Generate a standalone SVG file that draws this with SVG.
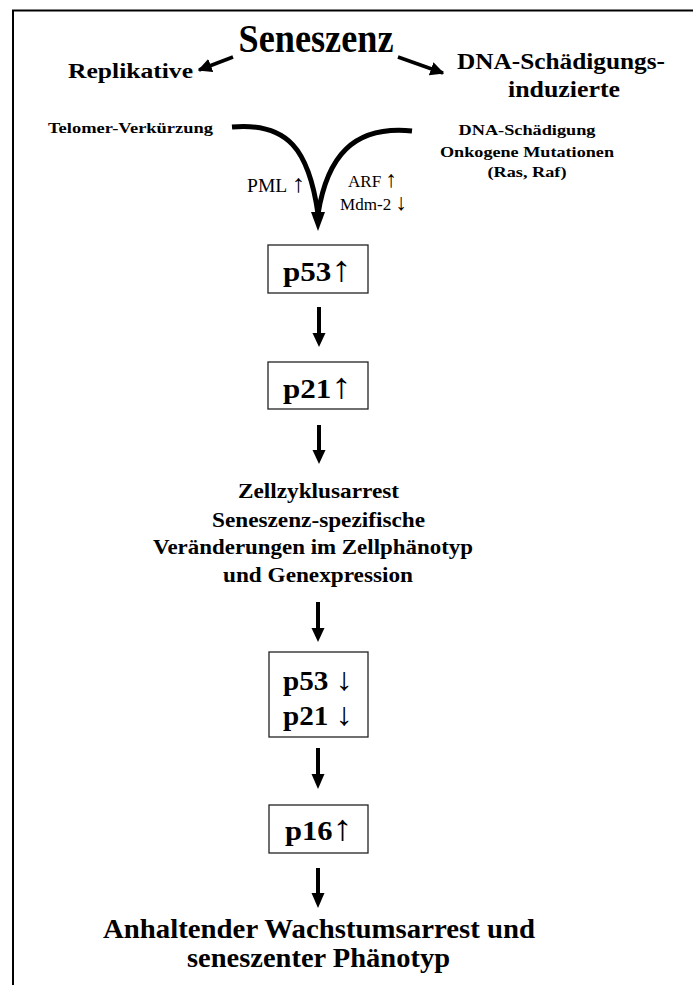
<svg xmlns="http://www.w3.org/2000/svg" width="693" height="985" viewBox="0 0 693 985">
<defs>
<style>
text{font-family:"Liberation Serif","Times New Roman",serif;fill:#000;text-anchor:middle}
.b{font-weight:bold}
.n{font-weight:normal}
.box{fill:#fff;stroke:#222;stroke-width:1.3}
.curve{fill:none;stroke:#000;stroke-width:5;stroke-linecap:butt}
.shaft{stroke:#000;stroke-width:4}
</style>
<marker id="ah" viewBox="0 0 10 10" refX="9" refY="5" markerWidth="4" markerHeight="4" orient="auto" markerUnits="strokeWidth">
<path d="M0,0 L10,5 L0,10 z" fill="#000"/>
</marker>
</defs>
<rect width="693" height="985" fill="#fff"/>
<g id="frame">
<line x1="12" y1="10.5" x2="693" y2="10.5" stroke="#000" stroke-width="2"/>
<line x1="13" y1="10" x2="13" y2="985" stroke="#000" stroke-width="2"/>
</g>
<g id="connectors">
<line x1="233" y1="57" x2="199" y2="70" stroke="#000" stroke-width="3.5" marker-end="url(#ah)"/>
<line x1="398" y1="57" x2="443" y2="73" stroke="#000" stroke-width="3.5" marker-end="url(#ah)"/>
<path class="curve" d="M232,127 C288,122 309,150 318,214"/>
<path class="curve" d="M412,131 C352,125 327,158 318,214"/>
<path d="M311,212 L325,212 L318,231 z" fill="#000"/>
<line class="shaft" x1="319" y1="307" x2="319" y2="335"/>
<path d="M312.5,333 L325.5,333 L319,347 z" fill="#000"/>
<line class="shaft" x1="319" y1="425" x2="319" y2="452"/>
<path d="M312.5,450 L325.5,450 L319,464 z" fill="#000"/>
<line class="shaft" x1="318" y1="602" x2="318" y2="630"/>
<path d="M311.5,628 L324.5,628 L318,642 z" fill="#000"/>
<line class="shaft" x1="318" y1="748" x2="318" y2="776"/>
<path d="M311.5,774 L324.5,774 L318,789 z" fill="#000"/>
<line class="shaft" x1="318" y1="868" x2="318" y2="895"/>
<path d="M311.5,893 L324.5,893 L318,908 z" fill="#000"/>
</g>
<g id="title"><text class="b" x="316" y="52" font-size="39" textLength="155" lengthAdjust="spacingAndGlyphs">Seneszenz</text></g>
<g id="replikative"><text class="b" x="130.5" y="78" font-size="22" textLength="125" lengthAdjust="spacingAndGlyphs">Replikative</text></g>
<g id="dna-induziert">
<text class="b" x="561" y="69" font-size="24" textLength="208" lengthAdjust="spacingAndGlyphs">DNA-Schädigungs-</text>
<text class="b" x="564" y="97" font-size="24" textLength="112" lengthAdjust="spacingAndGlyphs">induzierte</text>
</g>
<g id="telomer"><text class="b" x="130.5" y="133" font-size="15" textLength="165" lengthAdjust="spacingAndGlyphs">Telomer-Verkürzung</text></g>
<g id="dna-schaedigung">
<text class="b" x="527" y="135" font-size="15" textLength="137" lengthAdjust="spacingAndGlyphs">DNA-Schädigung</text>
<text class="b" x="527" y="157" font-size="15" textLength="174" lengthAdjust="spacingAndGlyphs">Onkogene Mutationen</text>
<text class="b" x="527" y="177" font-size="15" textLength="79" lengthAdjust="spacingAndGlyphs">(Ras, Raf)</text>
</g>
<g id="pml"><text x="276" y="192" font-size="18" textLength="58" lengthAdjust="spacingAndGlyphs">PML <tspan font-size="25">↑</tspan></text></g>
<g id="arf-mdm2">
<text x="372.5" y="187" font-size="17" textLength="49" lengthAdjust="spacingAndGlyphs">ARF <tspan font-size="23">↑</tspan></text>
<text x="373.5" y="210" font-size="17" textLength="67" lengthAdjust="spacingAndGlyphs">Mdm-2 <tspan font-size="23">↓</tspan></text>
</g>
<g id="p53up">
<rect class="box" x="268" y="245" width="100" height="48"/>
<text class="b" x="317.5" y="281" font-size="27" textLength="69" lengthAdjust="spacingAndGlyphs">p53<tspan class="n" font-size="36">↑</tspan></text>
</g>
<g id="p21up">
<rect class="box" x="268" y="362" width="100" height="47"/>
<text class="b" x="317.5" y="398" font-size="27" textLength="69" lengthAdjust="spacingAndGlyphs">p21<tspan class="n" font-size="36">↑</tspan></text>
</g>
<g id="arrest">
<text class="b" x="318.5" y="498" font-size="22" textLength="161" lengthAdjust="spacingAndGlyphs">Zellzyklusarrest</text>
<text class="b" x="318.5" y="527" font-size="22" textLength="213" lengthAdjust="spacingAndGlyphs">Seneszenz-spezifische</text>
<text class="b" x="313" y="554" font-size="22" textLength="320" lengthAdjust="spacingAndGlyphs">Veränderungen im Zellphänotyp</text>
<text class="b" x="318" y="582" font-size="22" textLength="190" lengthAdjust="spacingAndGlyphs">und Genexpression</text>
</g>
<g id="p53p21down">
<rect class="box" x="269" y="652" width="99" height="85"/>
<text class="b" x="318" y="690" font-size="27" textLength="70" lengthAdjust="spacingAndGlyphs">p53 <tspan class="n" font-size="32">↓</tspan></text>
<text class="b" x="318" y="725" font-size="27" textLength="70" lengthAdjust="spacingAndGlyphs">p21 <tspan class="n" font-size="32">↓</tspan></text>
</g>
<g id="p16up">
<rect class="box" x="269" y="805" width="99" height="48"/>
<text class="b" x="319" y="840" font-size="27" textLength="68" lengthAdjust="spacingAndGlyphs">p16<tspan class="n" font-size="36">↑</tspan></text>
</g>
<g id="final">
<text class="b" x="319" y="938" font-size="27" textLength="432" lengthAdjust="spacingAndGlyphs">Anhaltender Wachstumsarrest und</text>
<text class="b" x="318.5" y="967" font-size="27" textLength="263" lengthAdjust="spacingAndGlyphs">seneszenter Phänotyp</text>
</g>
</svg>
